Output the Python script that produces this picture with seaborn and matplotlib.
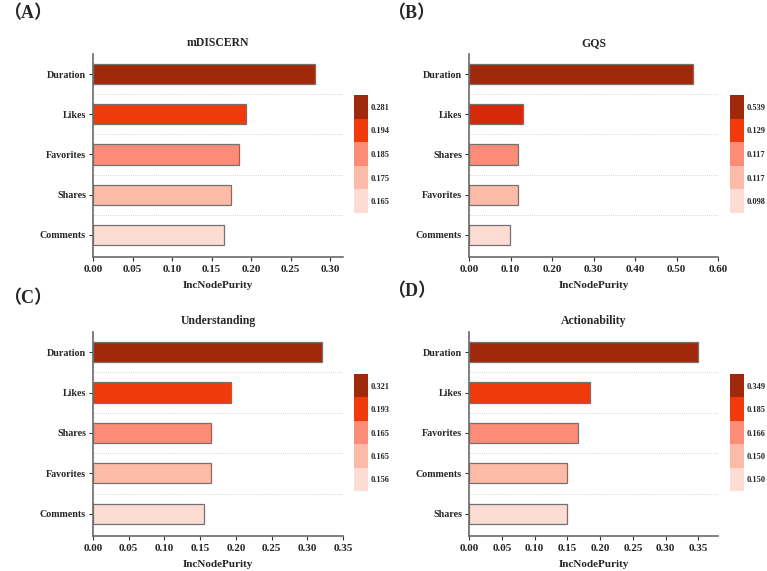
import numpy as np
import pandas as pd
import seaborn as sns
import matplotlib
matplotlib.use("Agg")
import matplotlib.pyplot as plt
from matplotlib.colors import ListedColormap, BoundaryNorm
from matplotlib.cm import ScalarMappable
from matplotlib.ticker import FormatStrFormatter

sns.set_style("white")
plt.rcParams['font.family'] = ['Liberation Serif', 'Noto Sans CJK SC', 'DejaVu Sans']
plt.rcParams['font.weight'] = 'bold'
plt.rcParams['axes.labelweight'] = 'bold'
plt.rcParams['axes.titleweight'] = 'bold'

# --- data ---
titles = ['mDISCERN', 'GQS', 'Understanding', 'Actionability']
panel_tags = ['（A）', '（B）', '（C）', '（D）']

feat_A = ['Duration', 'Likes', 'Favorites', 'Shares', 'Comments']
val_A = [0.281, 0.194, 0.185, 0.175, 0.165]
feat_B = ['Duration', 'Likes', 'Shares', 'Favorites', 'Comments']
val_B = [0.539, 0.129, 0.117, 0.117, 0.098]
feat_C = ['Duration', 'Likes', 'Shares', 'Favorites', 'Comments']
val_C = [0.321, 0.193, 0.165, 0.165, 0.156]
feat_D = ['Duration', 'Likes', 'Favorites', 'Comments', 'Shares']
val_D = [0.349, 0.185, 0.166, 0.150, 0.150]

# rank colours, darkest first
rank_colors = ['#A1290B', '#F03A0B', '#FC8C78', '#FCBBA7', '#FDDDD3']
gqs_bar_colors = ['#A1290B', '#D6290A', '#FC8C78', '#FCBBA7', '#FDDDD3']

x_ticks = [np.arange(0, 0.301, 0.05), np.arange(0, 0.601, 0.1),
           np.arange(0, 0.351, 0.05), np.arange(0, 0.351, 0.05)]
x_lims = [0.316, 0.60, 0.35, 0.38]

feats = [feat_A, feat_B, feat_C, feat_D]
vals = [val_A, val_B, val_C, val_D]
bar_cols = [rank_colors, gqs_bar_colors, rank_colors, rank_colors]

W, H = 767, 571
fig = plt.figure(figsize=(W / 100, H / 100), dpi=100)

# pixel boxes: (left, top, right, bottom)
ax_boxes = [(93, 54, 343, 257), (469, 54, 718, 257),
            (93, 332, 343, 536), (469, 332, 718, 536)]
cb_boxes = [(354, 95, 368, 213), (730, 95, 744, 213),
            (354, 374, 368, 491), (730, 374, 744, 491)]
tag_pos = [(3, 14), (387, 14), (3, 299), (387, 292)]


def frac(box):
    l, t, r, b = box
    return [l / W, 1 - b / H, (r - l) / W, (b - t) / H]


for i in range(4):
    ax = fig.add_axes(frac(ax_boxes[i]))
    df = pd.DataFrame({'feature': feats[i], 'value': vals[i]})
    sns.barplot(data=df, x='value', y='feature', hue='feature',
                palette=bar_cols[i], legend=False, orient='h', width=0.5,
                saturation=1, edgecolor='#727272', linewidth=0.9, ax=ax)
    for yy in [0.5, 1.5, 2.5, 3.5]:
        ax.axhline(yy, color='#c8c8c8', linestyle=(0, (1, 1.5)), linewidth=0.6, zorder=0)
    ax.set_xlim(0, x_lims[i])
    ax.set_ylim(4.55, -0.5)
    ax.set_xticks(x_ticks[i])
    ax.xaxis.set_major_formatter(FormatStrFormatter('%.2f'))
    ax.set_xlabel('IncNodePurity', fontsize=8, labelpad=5)
    ax.set_ylabel('')
    ax.set_title(titles[i], fontsize=8.5, pad=6)
    for s in ['top', 'right']:
        ax.spines[s].set_visible(False)
    for s in ['left', 'bottom']:
        ax.spines[s].set_color('#6a6a6a')
        ax.spines[s].set_linewidth(1.2)
    ax.tick_params(axis='x', labelsize=8, length=3, width=0.8, color='#333333', pad=3)
    ax.tick_params(axis='y', labelsize=7.2, length=3, width=0.8, color='#333333', pad=2)
    ax.tick_params(bottom=True, left=True)
    for lab in ax.get_xticklabels() + ax.get_yticklabels():
        lab.set_fontweight('bold')

    # discrete colour bar
    cax = fig.add_axes(frac(cb_boxes[i]))
    cmap = ListedColormap(rank_colors[::-1])
    norm = BoundaryNorm(np.arange(6), cmap.N)
    cb = fig.colorbar(ScalarMappable(norm=norm, cmap=cmap), cax=cax)
    cb.minorticks_off()
    cb.outline.set_visible(False)
    cb.set_ticks(np.arange(5) + 0.5)
    cb.set_ticklabels(['%.3f' % v for v in vals[i][::-1]])
    cax.tick_params(which='both', color='white', direction='in', length=3.5, width=1.2,
                    left=True, right=True, labelsize=6, pad=2)
    for lab in cax.get_yticklabels():
        lab.set_fontweight('bold')

    fig.text(tag_pos[i][0] / W, 1 - tag_pos[i][1] / H, panel_tags[i],
             fontsize=13, fontweight='bold', va='center', ha='left')

fig.savefig('out.png', dpi=100)
